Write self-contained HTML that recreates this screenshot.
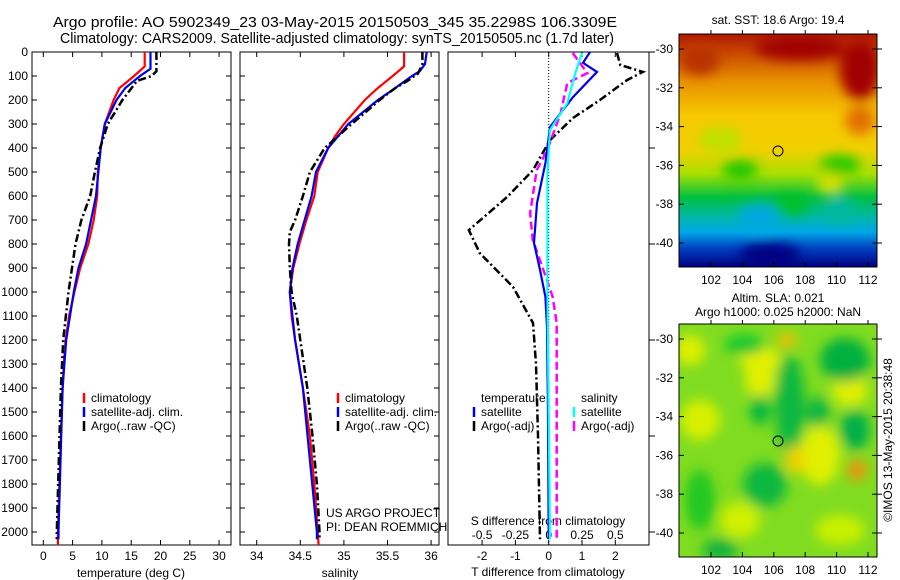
<!DOCTYPE html>
<html><head><meta charset="utf-8">
<style>
body{margin:0;background:#fff;}
svg{display:block;font-family:"Liberation Sans",sans-serif;}
text{font-size:12px;fill:#000;}
</style></head>
<body>
<svg id="root" width="900" height="580" viewBox="0 0 900 580">
<defs>
<linearGradient id="sstg" x1="0" y1="0" x2="0" y2="1">
<stop offset="0" stop-color="#b01800"/><stop offset="0.08" stop-color="#c84800"/>
<stop offset="0.2" stop-color="#e89000"/><stop offset="0.35" stop-color="#f8c800"/>
<stop offset="0.5" stop-color="#f0d000"/><stop offset="0.6" stop-color="#a8e000"/>
<stop offset="0.7" stop-color="#00c040"/><stop offset="0.78" stop-color="#00b8a0"/>
<stop offset="0.85" stop-color="#00a8e8"/><stop offset="0.92" stop-color="#0040c0"/>
<stop offset="1" stop-color="#000080"/></linearGradient>
<filter id="bl" x="-50%" y="-50%" width="200%" height="200%"><feGaussianBlur stdDeviation="6"/></filter>
<clipPath id="c1"><rect x="679" y="34" width="198" height="233"/></clipPath>
<clipPath id="c2"><rect x="679" y="324" width="198" height="233"/></clipPath>
<clipPath id="cp1"><rect x="32" y="52" width="199" height="493"/></clipPath>
<clipPath id="cp2"><rect x="240" y="52" width="199" height="493"/></clipPath>
<clipPath id="cp3"><rect x="448" y="52" width="201" height="493"/></clipPath>
</defs>
<text x="53" y="27" textLength="564" lengthAdjust="spacingAndGlyphs" style="font-size:14.5px">Argo profile: AO 5902349_23 03-May-2015 20150503_345 35.2298S 106.3309E</text>
<text x="60" y="43" textLength="554" lengthAdjust="spacingAndGlyphs" style="font-size:14.5px">Climatology: CARS2009. Satellite-adjusted climatology: synTS_20150505.nc (1.7d later)</text>

<g id="p1"></g>
<g id="p2"></g>
<g id="p3"></g>

<!-- SST map -->
<g>
<text x="778" y="24" text-anchor="middle">sat. SST: 18.6 Argo: 19.4</text>
<g clip-path="url(#c1)">
<rect x="679" y="34" width="198" height="233" fill="url(#sstg)"/>
<g filter="url(#bl)">
<ellipse cx="800" cy="48" rx="45" ry="12" fill="#a00000"/>
<ellipse cx="860" cy="70" rx="20" ry="30" fill="#a00000"/>
<ellipse cx="700" cy="60" rx="20" ry="15" fill="#b83000"/>
<ellipse cx="860" cy="120" rx="15" ry="15" fill="#e07000"/>
<ellipse cx="720" cy="140" rx="22" ry="14" fill="#c0e000"/>
<ellipse cx="840" cy="165" rx="20" ry="10" fill="#20c800"/>
<ellipse cx="740" cy="170" rx="18" ry="10" fill="#20c800"/>
<ellipse cx="760" cy="218" rx="22" ry="14" fill="#00a8e0"/>
<ellipse cx="840" cy="210" rx="15" ry="14" fill="#00b8a0"/>
<ellipse cx="790" cy="205" rx="18" ry="10" fill="#00c020"/>
<ellipse cx="830" cy="183" rx="14" ry="10" fill="#d8e000"/>
<ellipse cx="770" cy="255" rx="30" ry="12" fill="#000080"/>
</g></g>
<rect x="679" y="34" width="198" height="233" fill="none" stroke="#000"/>
<circle cx="778" cy="151" r="5" fill="none" stroke="#000"/>
<g id="m1ax"></g>
</g>

<!-- SLA map -->
<g>
<text x="778" y="302" text-anchor="middle">Altim. SLA: 0.021</text>
<text x="778" y="316" text-anchor="middle">Argo h1000: 0.025 h2000: NaN</text>
<g clip-path="url(#c2)">
<rect x="679" y="324" width="198" height="233" fill="#80dc20"/>
<g filter="url(#bl)">
<ellipse cx="690" cy="350" rx="15" ry="15" fill="#e0f000"/>
<ellipse cx="760" cy="360" rx="20" ry="14" fill="#e8f000"/>
<ellipse cx="760" cy="380" rx="15" ry="18" fill="#e0f000"/>
<ellipse cx="700" cy="420" rx="20" ry="20" fill="#d8f000"/>
<ellipse cx="820" cy="455" rx="20" ry="30" fill="#e0f000"/>
<ellipse cx="850" cy="390" rx="18" ry="16" fill="#e0f000"/>
<ellipse cx="740" cy="520" rx="20" ry="18" fill="#d0f000"/>
<ellipse cx="840" cy="530" rx="25" ry="15" fill="#c8f000"/>
<ellipse cx="745" cy="345" rx="20" ry="10" fill="#10c830"/>
<ellipse cx="760" cy="410" rx="10" ry="15" fill="#00b840"/>
<ellipse cx="790" cy="405" rx="15" ry="50" fill="#10b840"/>
<ellipse cx="845" cy="360" rx="25" ry="22" fill="#00b040"/>
<ellipse cx="855" cy="430" rx="15" ry="20" fill="#00b048"/>
<ellipse cx="818" cy="412" rx="12" ry="15" fill="#10b840"/>
<ellipse cx="700" cy="500" rx="15" ry="30" fill="#20c820"/>
<ellipse cx="765" cy="485" rx="22" ry="22" fill="#10b840"/>
<ellipse cx="720" cy="550" rx="18" ry="10" fill="#10b040"/>
<ellipse cx="857" cy="470" rx="10" ry="10" fill="#f09010"/>
<ellipse cx="795" cy="460" rx="10" ry="14" fill="#f0d000"/>
<ellipse cx="787" cy="340" rx="10" ry="8" fill="#f0c000"/>
</g></g>
<rect x="679" y="324" width="198" height="233" fill="none" stroke="#000"/>
<circle cx="778" cy="441" r="5" fill="none" stroke="#000"/>
<g id="m2ax"></g>
</g>
<text transform="translate(892,440) rotate(-90)" text-anchor="middle">©IMOS 13-May-2015 20:38:48</text>
</svg>
<script>
// ---- data ----
const depthTicks=[0,100,200,300,400,500,600,700,800,900,1000,1100,1200,1300,1400,1500,1600,1700,1800,1900,2000];
const tempTicks=[0,5,10,15,20,25,30];
const salTicks=[34,34.5,35,35.5,36];
const tdiffTicks=[-2,-1,0,1,2];
const sdiffTicks=[-0.5,-0.25,0,0.25,0.5];
const sdiffLabels=["-0.5","-0.25","0","0.25","0.5"];
const latTicks=[-30,-32,-34,-36,-38,-40];
const lonTicks=[102,104,106,108,110,112];

const tClimD=[0,60,100,150,200,300,400,500,600,700,800,900,1000,1100,1200,1300,1400,1600,2000,2055];
const tClim=[17.3,17.3,15.5,13,12,10.5,9.8,9.3,9.2,8.6,7.7,6.3,5.3,4.4,3.8,3.5,3.3,3.0,2.5,2.5];
const tSatD=[0,70,100,150,200,300,400,600,800,900,1000,1200,1400,2000,2030];
const tSat=[18.3,18.3,16.5,14,12.5,10.5,9.8,9,7.3,6,5.2,3.9,3.3,2.6,2.6];
const tArgoD=[0,80,100,120,200,300,400,500,600,700,800,900,1000,1200,1400,2000,2030];
const tArgo=[19.3,19.3,18.5,16,13.5,11,9.7,8.8,8,6.5,5.5,4.9,4.3,3.4,3.0,2.3,2.3];

const sClimD=[0,60,100,150,200,300,350,400,500,600,700,800,900,1000,1100,1200,1400,1600,1800,2000,2055];
const sClim=[35.69,35.69,35.56,35.39,35.24,35.0,34.9,34.82,34.70,34.66,34.57,34.49,34.42,34.38,34.40,34.44,34.53,34.61,34.66,34.70,34.71];
const sSatD=[0,50,80,100,150,200,300,400,500,600,800,900,1000,1200,1400,2000,2030];
const sSat=[35.95,35.93,35.87,35.78,35.59,35.39,35.05,34.82,34.68,34.63,34.47,34.41,34.38,34.44,34.53,34.69,34.69];
const sArgoD=[0,50,90,120,150,200,300,400,500,600,700,750,800,900,1000,1100,1200,1400,1600,1800,2000,2030];
const sArgo=[35.9,35.9,35.85,35.73,35.59,35.41,35.09,34.78,34.61,34.53,34.44,34.38,34.37,34.38,34.40,34.46,34.50,34.58,34.64,34.69,34.72,34.72];

const dtSatD=[0,45,83,188,313,463,630,796,908,1020,1145,1500,2030];
const dtSat=[1.24,1.03,1.45,0.73,0.04,-0.1,-0.35,-0.44,-0.26,-0.1,-0.05,-0.02,0.0];
const dtArgoD=[4,54,83,117,200,275,367,492,604,742,838,979,1129,1300,1600,2030];
const dtArgo=[2.05,2.15,2.83,2.35,1.54,0.73,0.04,-0.47,-1.25,-2.4,-2.07,-1.07,-0.47,-0.38,-0.32,-0.26];
const dsSatD=[4,88,213,325,500,1000,1500,2030];
const dsSat=[0.25,0.2,0.14,0.01,-0.01,-0.01,0.0,0.01];
const dsArgoD=[4,88,129,254,408,492,671,783,908,1021,1129,1500,2030];
const dsArgo=[0.18,0.29,0.14,0.09,-0.01,-0.09,-0.14,-0.12,-0.04,0.03,0.06,0.06,0.06];

// ---- axis functions ----
const Y=d=>52+d*0.24;
const XT=t=>43.3+t*5.86;
const XS=s=>256.7+(s-34)*87.2;
const XDT=v=>548.7+v*33.3;
const XDS=v=>548.7+v*133.2;
const MX=l=>711+(l-102)*15.7;
const MY1=a=>49+(-30-a)*19.4;
const MY2=a=>339+(-30-a)*19.4;
const NS="http://www.w3.org/2000/svg";
function mk(tag,attrs,parent,txt){const e=document.createElementNS(NS,tag);for(const k in attrs)e.setAttribute(k,attrs[k]);if(txt!==undefined)e.textContent=txt;parent.appendChild(e);return e;}

const styles={red:{stroke:"#f00","stroke-width":2.2},blue:{stroke:"#0000f0","stroke-width":2.2},
black:{stroke:"#000","stroke-width":2.5,"stroke-dasharray":"8,3,2,3"},cyan:{stroke:"#00ffff","stroke-width":2.2},
mag:{stroke:"#ff00ff","stroke-width":2.5,"stroke-dasharray":"8,4"}};
function line(g,ds,vs,xf,st,name,clip){
  const pts=ds.map((d,i)=>xf(vs[i]).toFixed(1)+","+Y(d).toFixed(1)).join(" ");
  const a=Object.assign({points:pts,fill:"none","clip-path":clip},styles[st]);
  const e=mk("polyline",a,g);
  
  
}
function frame(g,x0,x1){
  mk("rect",{x:x0,y:52,width:x1-x0,height:493,fill:"none",stroke:"#000"},g);
}
function legend(g,x,y,items){
  items.forEach((it,i)=>{
    const e=mk("line",{x1:x,y1:y+i*14-9,x2:x,y2:y+i*14+1,stroke:it[1],"stroke-width":2.5},g);
    
    
    const t=mk("text",{x:x+7,y:y+i*14},g,it[0]);
    
    
  });
}
// panel 1
const p1=document.getElementById("p1");
frame(p1,32,231);
depthTicks.forEach(d=>{
  mk("line",{x1:32,y1:Y(d),x2:37,y2:Y(d),stroke:"#000"},p1);
  mk("line",{x1:226,y1:Y(d),x2:231,y2:Y(d),stroke:"#000"},p1);
  const t=mk("text",{x:28,y:Y(d)+4,"text-anchor":"end"},p1,d);
  
  
});
tempTicks.forEach(v=>{
  mk("line",{x1:XT(v),y1:545,x2:XT(v),y2:540,stroke:"#000"},p1);
  mk("line",{x1:XT(v),y1:52,x2:XT(v),y2:57,stroke:"#000"},p1);
  const t=mk("text",{x:XT(v),y:560,"text-anchor":"middle"},p1,v);
  
  
});
mk("text",{x:131,y:577,"text-anchor":"middle",},p1,"temperature (deg C)");
line(p1,tClimD,tClim,XT,"red","temp-climatology-line","url(#cp1)");
line(p1,tSatD,tSat,XT,"blue","temp-satellite-line","url(#cp1)");
line(p1,tArgoD,tArgo,XT,"black","temp-argo-line","url(#cp1)");
legend(p1,84,402,[["climatology","#f00"],["satellite-adj. clim.","#0000f0"],["Argo(..raw -QC)","#000"]]);
// panel 2
const p2=document.getElementById("p2");
frame(p2,240,439);
depthTicks.forEach(d=>{
  mk("line",{x1:240,y1:Y(d),x2:245,y2:Y(d),stroke:"#000"},p2);
  mk("line",{x1:434,y1:Y(d),x2:439,y2:Y(d),stroke:"#000"},p2);
});
salTicks.forEach(v=>{
  mk("line",{x1:XS(v),y1:545,x2:XS(v),y2:540,stroke:"#000"},p2);
  mk("line",{x1:XS(v),y1:52,x2:XS(v),y2:57,stroke:"#000"},p2);
  const t=mk("text",{x:XS(v),y:560,"text-anchor":"middle"},p2,v);
  
  
});
mk("text",{x:340,y:577,"text-anchor":"middle",},p2,"salinity");
line(p2,sClimD,sClim,XS,"red","sal-climatology-line","url(#cp2)");
line(p2,sSatD,sSat,XS,"blue","sal-satellite-line","url(#cp2)");
line(p2,sArgoD,sArgo,XS,"black","sal-argo-line","url(#cp2)");
legend(p2,338,402,[["climatology","#f00"],["satellite-adj. clim.","#0000f0"],["Argo(..raw -QC)","#000"]]);
mk("text",{x:326,y:517,},p2,"US ARGO PROJECT");
mk("text",{x:326,y:531,},p2,"PI: DEAN ROEMMICH");
// panel 3
const p3=document.getElementById("p3");
frame(p3,448,649);
mk("line",{x1:548.7,y1:52,x2:548.7,y2:545,stroke:"#000","stroke-dasharray":"1,2",},p3);
depthTicks.forEach(d=>{ if(d%400===0||d===0) mk("line",{x1:649,y1:Y(d),x2:655,y2:Y(d),stroke:"#000"},p3);});
tdiffTicks.forEach(v=>{
  mk("line",{x1:XDT(v),y1:545,x2:XDT(v),y2:540,stroke:"#000"},p3);
  mk("line",{x1:XDT(v),y1:52,x2:XDT(v),y2:57,stroke:"#000"},p3);
  const t=mk("text",{x:XDT(v),y:560,"text-anchor":"middle"},p3,v);
  
  
});
sdiffTicks.forEach((v,i)=>{
  const t=mk("text",{x:XDS(v),y:539,"text-anchor":"middle"},p3,sdiffLabels[i]);
  
  
});
mk("text",{x:548,y:525,"text-anchor":"middle",},p3,"S difference from climatology");
mk("text",{x:548,y:576,"text-anchor":"middle",},p3,"T difference from climatology");
line(p3,dtArgoD,dtArgo,XDT,"black","tdiff-argo-line","url(#cp3)");
line(p3,dsArgoD,dsArgo,XDS,"mag","sdiff-argo-line","url(#cp3)");
line(p3,dtSatD,dtSat,XDT,"blue","tdiff-satellite-line","url(#cp3)");
line(p3,dsSatD,dsSat,XDS,"cyan","sdiff-satellite-line","url(#cp3)");
mk("text",{x:481,y:402},p3,"temperature");
mk("text",{x:581,y:402},p3,"salinity");
legend(p3,474,416,[["satellite","#0000f0"],["Argo(-adj)","#000"]]);
legend(p3,574,416,[["satellite","#00ffff"],["Argo(-adj)","#ff00ff"]]);
// map axes
function mapAx(g,MY,y0,y1){
  latTicks.forEach(a=>{
    mk("line",{x1:679,y1:MY(a),x2:684,y2:MY(a),stroke:"#000"},g);
    mk("line",{x1:872,y1:MY(a),x2:882,y2:MY(a),stroke:"#000"},g);
    const t=mk("text",{x:673,y:MY(a)+4,"text-anchor":"end"},g,a);
    
    
  });
  lonTicks.forEach(l=>{
    mk("line",{x1:MX(l),y1:y1,x2:MX(l),y2:y1-5,stroke:"#000"},g);
    mk("line",{x1:MX(l),y1:y0,x2:MX(l),y2:y0-4,stroke:"#000"},g);
    const t=mk("text",{x:MX(l),y:y1+17,"text-anchor":"middle"},g,l);
    
    
  });
}
mapAx(document.getElementById("m1ax"),MY1,34,267);
mapAx(document.getElementById("m2ax"),MY2,324,557);
</script>
</body></html>
